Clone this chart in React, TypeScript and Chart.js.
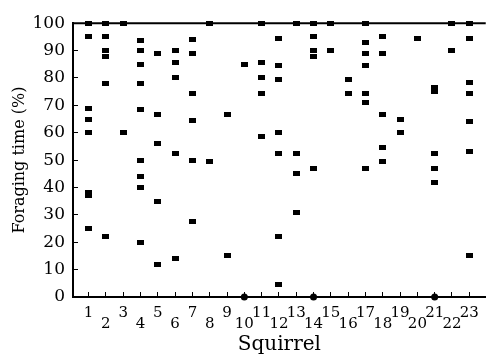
import React, { useEffect, useRef } from "react";
import { Chart, registerables } from "chart.js";

Chart.register(...registerables);

const squirrels = [1, 2, 3, 4, 5, 6, 7, 8, 9, 10, 11, 12, 13, 14, 15, 16, 17, 18, 19, 20, 21, 22, 23];
const yTickValues = [0, 10, 20, 30, 40, 50, 60, 70, 80, 90, 100];

// Foraging time (%) observations for each squirrel, in squirrel order
const foraging: number[][] = [
  [100, 95, 69, 65, 60, 38, 37, 25],
  [100, 95, 90, 88, 78, 22],
  [100, 60],
  [93.5, 90, 85, 78, 68.5, 50, 44, 40, 20],
  [89, 66.5, 56, 35, 12],
  [90, 85.5, 80, 52.5, 14],
  [94, 89, 74.5, 64.5, 50, 27.5],
  [100, 49.5],
  [66.5, 15],
  [85, 0],
  [100, 85.5, 80, 74.5, 58.5],
  [94.5, 84.5, 79.5, 60, 52.5, 22, 4.5],
  [100, 52.5, 45, 31],
  [100, 95, 90, 88, 47, 0],
  [100, 90],
  [79.5, 74.5],
  [100, 93, 89, 84.5, 74.5, 71, 47],
  [95, 89, 66.5, 54.5, 49.5],
  [65, 60],
  [94.5],
  [76.5, 75, 52.5, 47, 42, 0],
  [100, 90],
  [100, 94.5, 78.5, 74.5, 64, 53, 15],
];

const FONT = "'DejaVu Serif', 'Liberation Serif', serif";

export default function App() {
  const ref = useRef<HTMLCanvasElement>(null);

  useEffect(() => {
    const canvas = ref.current;
    if (!canvas) return;

    const marker = document.createElement("canvas");
    marker.width = 7;
    marker.height = 5;
    const mctx = marker.getContext("2d");
    if (mctx) {
      mctx.fillStyle = "#000";
      mctx.fillRect(0, 0, 7, 5);
    }

    const points = foraging.flatMap((vals, i) =>
      vals.map((v) => ({ x: squirrels[i], y: v }))
    );

    const topFrame = {
      id: "topFrame",
      beforeDatasetsDraw(chart: any) {
        const { ctx, chartArea } = chart;
        ctx.save();
        ctx.strokeStyle = "#000";
        ctx.lineWidth = 2;
        ctx.beginPath();
        ctx.moveTo(chartArea.left, chartArea.top);
        ctx.lineTo(chartArea.right, chartArea.top);
        ctx.stroke();
        ctx.restore();
      },
    };

    const chart = new Chart(canvas, {
      type: "scatter",
      data: {
        datasets: [
          {
            data: points,
            pointStyle: (ctx: any) => (ctx.raw && ctx.raw.y === 0 ? "circle" : marker),
            pointRadius: 3.5,
            backgroundColor: "#000",
            borderColor: "#000",
            borderWidth: 0,
            clip: false,
          } as any,
        ],
      },
      options: {
        animation: false,
        responsive: false,
        maintainAspectRatio: false,
        layout: { padding: { top: 15, right: 0, left: 0, bottom: 0 } },
        plugins: {
          legend: { display: false },
          tooltip: { enabled: false },
        },
        scales: {
          x: {
            type: "linear",
            min: 0.1,
            max: 23.95,
            afterBuildTicks: (s: any) => {
              s.ticks = squirrels.map((v) => ({ value: v }));
            },
            afterFit: (s: any) => {
              s.height = 62;
            },
            ticks: {
              autoSkip: false,
              maxRotation: 0,
              padding: 16,
              color: "#000",
              font: { family: FONT, size: 15, lineHeight: "11px" } as any,
              callback: (v: any) => (Number(v) % 2 === 0 ? ["", String(v)] : String(v)),
            },
            grid: {
              display: true,
              drawOnChartArea: false,
              drawTicks: true,
              tickLength: -5,
              color: "#000",
              lineWidth: 1,
            },
            border: { display: true, color: "#000", width: 2 },
            title: {
              display: true,
              text: "Squirrel",
              color: "#000",
              font: { family: FONT, size: 20 },
              padding: { top: 0, bottom: 2 },
            },
          },
          y: {
            type: "linear",
            min: 0,
            max: 100,
            afterBuildTicks: (s: any) => {
              s.ticks = yTickValues.map((v) => ({ value: v }));
            },
            afterFit: (s: any) => {
              s.width = 73;
            },
            ticks: {
              padding: 13,
              color: "#000",
              font: { family: FONT, size: 17 },
            },
            grid: {
              display: true,
              drawOnChartArea: false,
              drawTicks: true,
              tickLength: -5,
              color: "#000",
              lineWidth: 1,
            },
            border: { display: true, color: "#000", width: 2 },
            title: {
              display: true,
              text: "Foraging time (%)",
              color: "#000",
              font: { family: FONT, size: 16 },
              padding: { top: 10, bottom: 0 },
            },
          },
        },
      },
      plugins: [topFrame],
    } as any);

    return () => chart.destroy();
  }, []);

  return (
    <div style={{ position: "fixed", left: 0, top: 0, width: 495, height: 359, background: "#fff" }}>
      <canvas ref={ref} width={495} height={359} style={{ width: 495, height: 359, display: "block" }} />
    </div>
  );
}
